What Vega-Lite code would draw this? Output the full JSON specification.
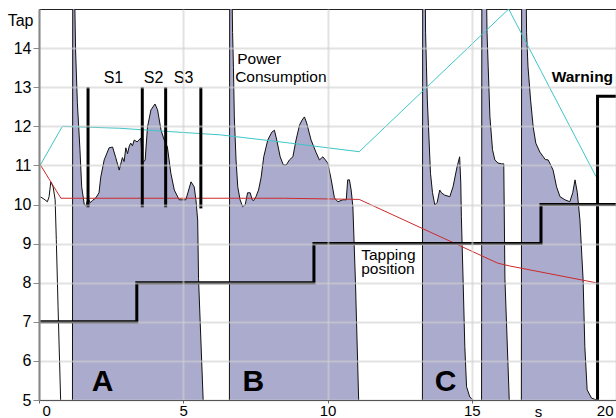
{
  "$schema": "https://vega.github.io/schema/vega-lite/v6.json",
  "width": 577,
  "height": 391,
  "autosize": {"type": "none"},
  "padding": {"left": 39, "top": 9, "right": 0, "bottom": 18},
  "background": "white",
  "config": {
    "view": {"stroke": "#222", "strokeWidth": 1},
    "font": "Liberation Sans",
    "axis": {"labelFont": "Liberation Sans", "titleFont": "Liberation Sans", "labelColor": "#000", "titleColor": "#000", "labelFontSize": 16, "titleFontSize": 16, "titleFontWeight": "normal"}
  },
  "datasets": {
    "power": [
      {"s": "P", "x": 0.0, "y": 10.2}, {"s": "P", "x": 0.06, "y": 10.19}, {"s": "P", "x": 0.17, "y": 10.14}, {"s": "P", "x": 0.29, "y": 10.07}, {"s": "P", "x": 0.35, "y": 10.2}, {"s": "P", "x": 0.41, "y": 10.58}, {"s": "P", "x": 0.49, "y": 10.45}, {"s": "P", "x": 0.56, "y": 10.12}, {"s": "P", "x": 0.6, "y": 9.1}, {"s": "P", "x": 0.66, "y": 7.4}, {"s": "P", "x": 0.75, "y": 5.0},
      {"s": "A", "x": 1.16, "y": 5}, {"s": "A", "x": 1.17, "y": 16}, {"s": "A", "x": 1.22, "y": 16}, {"s": "A", "x": 1.27, "y": 13.9}, {"s": "A", "x": 1.33, "y": 12.6}, {"s": "A", "x": 1.42, "y": 11.4}, {"s": "A", "x": 1.48, "y": 10.45}, {"s": "A", "x": 1.57, "y": 10.0}, {"s": "A", "x": 1.62, "y": 9.96}, {"s": "A", "x": 1.7, "y": 10.15}, {"s": "A", "x": 1.78, "y": 10.05}, {"s": "A", "x": 1.85, "y": 10.1}, {"s": "A", "x": 1.97, "y": 10.17}, {"s": "A", "x": 2.08, "y": 10.3}, {"s": "A", "x": 2.14, "y": 10.7}, {"s": "A", "x": 2.26, "y": 11.14}, {"s": "A", "x": 2.43, "y": 11.45}, {"s": "A", "x": 2.55, "y": 11.47}, {"s": "A", "x": 2.66, "y": 11.2}, {"s": "A", "x": 2.78, "y": 10.88}, {"s": "A", "x": 2.89, "y": 11.2}, {"s": "A", "x": 2.95, "y": 11.1}, {"s": "A", "x": 3.01, "y": 11.45}, {"s": "A", "x": 3.07, "y": 11.3}, {"s": "A", "x": 3.13, "y": 11.5}, {"s": "A", "x": 3.18, "y": 11.57}, {"s": "A", "x": 3.24, "y": 11.5}, {"s": "A", "x": 3.3, "y": 11.65}, {"s": "A", "x": 3.4, "y": 11.6}, {"s": "A", "x": 3.53, "y": 11.7}, {"s": "A", "x": 3.59, "y": 11.06}, {"s": "A", "x": 3.68, "y": 11.14}, {"s": "A", "x": 3.76, "y": 11.98}, {"s": "A", "x": 3.88, "y": 12.42}, {"s": "A", "x": 4.02, "y": 12.57}, {"s": "A", "x": 4.11, "y": 12.42}, {"s": "A", "x": 4.23, "y": 11.9}, {"s": "A", "x": 4.34, "y": 11.65}, {"s": "A", "x": 4.45, "y": 11.47}, {"s": "A", "x": 4.57, "y": 10.8}, {"s": "A", "x": 4.69, "y": 10.37}, {"s": "A", "x": 4.86, "y": 10.12}, {"s": "A", "x": 5.09, "y": 10.12}, {"s": "A", "x": 5.27, "y": 10.58}, {"s": "A", "x": 5.38, "y": 10.45}, {"s": "A", "x": 5.44, "y": 10.12}, {"s": "A", "x": 5.5, "y": 9.6}, {"s": "A", "x": 5.53, "y": 8.1}, {"s": "A", "x": 5.69, "y": 5},
      {"s": "B", "x": 6.6, "y": 5}, {"s": "B", "x": 6.61, "y": 16}, {"s": "B", "x": 6.68, "y": 16}, {"s": "B", "x": 6.71, "y": 14.4}, {"s": "B", "x": 6.74, "y": 13.5}, {"s": "B", "x": 6.77, "y": 12.24}, {"s": "B", "x": 6.83, "y": 11.14}, {"s": "B", "x": 6.89, "y": 10.45}, {"s": "B", "x": 6.97, "y": 10.12}, {"s": "B", "x": 7.06, "y": 9.94}, {"s": "B", "x": 7.15, "y": 10.0}, {"s": "B", "x": 7.23, "y": 10.3}, {"s": "B", "x": 7.32, "y": 10.3}, {"s": "B", "x": 7.39, "y": 10.12}, {"s": "B", "x": 7.44, "y": 10.1}, {"s": "B", "x": 7.52, "y": 10.2}, {"s": "B", "x": 7.61, "y": 10.37}, {"s": "B", "x": 7.7, "y": 10.7}, {"s": "B", "x": 7.79, "y": 11.22}, {"s": "B", "x": 7.93, "y": 11.65}, {"s": "B", "x": 8.07, "y": 11.85}, {"s": "B", "x": 8.16, "y": 11.9}, {"s": "B", "x": 8.24, "y": 11.65}, {"s": "B", "x": 8.36, "y": 11.22}, {"s": "B", "x": 8.47, "y": 11.01}, {"s": "B", "x": 8.57, "y": 11.01}, {"s": "B", "x": 8.68, "y": 11.14}, {"s": "B", "x": 8.8, "y": 11.22}, {"s": "B", "x": 8.91, "y": 11.65}, {"s": "B", "x": 9.03, "y": 12.03}, {"s": "B", "x": 9.12, "y": 12.16}, {"s": "B", "x": 9.2, "y": 12.24}, {"s": "B", "x": 9.28, "y": 12.08}, {"s": "B", "x": 9.43, "y": 11.65}, {"s": "B", "x": 9.61, "y": 11.32}, {"s": "B", "x": 9.72, "y": 11.14}, {"s": "B", "x": 9.84, "y": 11.22}, {"s": "B", "x": 10.01, "y": 11.06}, {"s": "B", "x": 10.13, "y": 10.63}, {"s": "B", "x": 10.24, "y": 10.17}, {"s": "B", "x": 10.36, "y": 10.07}, {"s": "B", "x": 10.53, "y": 10.12}, {"s": "B", "x": 10.65, "y": 10.12}, {"s": "B", "x": 10.7, "y": 10.63}, {"s": "B", "x": 10.76, "y": 10.63}, {"s": "B", "x": 10.82, "y": 10.37}, {"s": "B", "x": 10.88, "y": 9.94}, {"s": "B", "x": 10.97, "y": 8.0}, {"s": "B", "x": 11.08, "y": 5},
      {"s": "C1", "x": 13.29, "y": 5}, {"s": "C1", "x": 13.3, "y": 16}, {"s": "C1", "x": 13.38, "y": 16}, {"s": "C1", "x": 13.4, "y": 14.39}, {"s": "C1", "x": 13.43, "y": 13.52}, {"s": "C1", "x": 13.46, "y": 12.67}, {"s": "C1", "x": 13.52, "y": 11.65}, {"s": "C1", "x": 13.57, "y": 10.8}, {"s": "C1", "x": 13.64, "y": 10.3}, {"s": "C1", "x": 13.72, "y": 9.99}, {"s": "C1", "x": 13.8, "y": 10.05}, {"s": "C1", "x": 13.89, "y": 10.37}, {"s": "C1", "x": 13.95, "y": 10.3}, {"s": "C1", "x": 14.06, "y": 10.24}, {"s": "C1", "x": 14.24, "y": 10.2}, {"s": "C1", "x": 14.35, "y": 10.45}, {"s": "C1", "x": 14.49, "y": 10.96}, {"s": "C1", "x": 14.58, "y": 11.22}, {"s": "C1", "x": 14.62, "y": 10.55}, {"s": "C1", "x": 14.64, "y": 9.7}, {"s": "C1", "x": 14.7, "y": 8.07}, {"s": "C1", "x": 14.76, "y": 6.36}, {"s": "C1", "x": 14.82, "y": 5.34}, {"s": "C1", "x": 14.93, "y": 5.08}, {"s": "C1", "x": 15.05, "y": 5.0},
      {"s": "C2", "x": 15.34, "y": 5}, {"s": "C2", "x": 15.35, "y": 16}, {"s": "C2", "x": 15.5, "y": 16}, {"s": "C2", "x": 15.53, "y": 14.39}, {"s": "C2", "x": 15.57, "y": 13.52}, {"s": "C2", "x": 15.63, "y": 12.24}, {"s": "C2", "x": 15.72, "y": 11.4}, {"s": "C2", "x": 15.8, "y": 11.14}, {"s": "C2", "x": 15.91, "y": 11.06}, {"s": "C2", "x": 16.03, "y": 11.04}, {"s": "C2", "x": 16.11, "y": 11.04}, {"s": "C2", "x": 16.15, "y": 8.1}, {"s": "C2", "x": 16.3, "y": 5},
      {"s": "C3", "x": 16.72, "y": 5}, {"s": "C3", "x": 16.73, "y": 16}, {"s": "C3", "x": 16.88, "y": 16}, {"s": "C3", "x": 16.9, "y": 14.39}, {"s": "C3", "x": 16.95, "y": 13.52}, {"s": "C3", "x": 17.04, "y": 12.67}, {"s": "C3", "x": 17.13, "y": 11.98}, {"s": "C3", "x": 17.22, "y": 11.57}, {"s": "C3", "x": 17.36, "y": 11.34}, {"s": "C3", "x": 17.48, "y": 11.22}, {"s": "C3", "x": 17.55, "y": 11.15}, {"s": "C3", "x": 17.65, "y": 11.14}, {"s": "C3", "x": 17.82, "y": 10.88}, {"s": "C3", "x": 17.94, "y": 10.45}, {"s": "C3", "x": 18.06, "y": 10.2}, {"s": "C3", "x": 18.23, "y": 10.12}, {"s": "C3", "x": 18.4, "y": 10.07}, {"s": "C3", "x": 18.5, "y": 10.3}, {"s": "C3", "x": 18.58, "y": 10.63}, {"s": "C3", "x": 18.66, "y": 10.3}, {"s": "C3", "x": 18.75, "y": 9.6}, {"s": "C3", "x": 18.86, "y": 8.07}, {"s": "C3", "x": 18.92, "y": 6.36}, {"s": "C3", "x": 19.0, "y": 5.26}, {"s": "C3", "x": 19.15, "y": 5.05}, {"s": "C3", "x": 19.33, "y": 5.0}
    ],
    "cyan": [
      {"x": 0, "y": 10.95}, {"x": 0.81, "y": 12.0}, {"x": 2.8, "y": 11.95}, {"x": 4.2, "y": 11.88}, {"x": 6.3, "y": 11.78}, {"x": 8.6, "y": 11.58}, {"x": 11.1, "y": 11.35}, {"x": 16.28, "y": 15.0}, {"x": 19.31, "y": 10.71}
    ],
    "red": [
      {"x": 0, "y": 11.07}, {"x": 0.76, "y": 10.16}, {"x": 8.5, "y": 10.16}, {"x": 11.1, "y": 10.13}, {"x": 15.9, "y": 8.5}, {"x": 16.3, "y": 8.43}, {"x": 19.3, "y": 8.0}
    ],
    "tap": [
      {"x": 0, "y": 7}, {"x": 3.39, "y": 8}, {"x": 9.53, "y": 9}, {"x": 17.4, "y": 10}, {"x": 20, "y": 10}
    ],
    "warning": [
      {"i": 0, "x": 19.36, "y": 5}, {"i": 1, "x": 19.36, "y": 12.77}, {"i": 2, "x": 20, "y": 12.77}
    ],
    "slines": [
      {"x": 1.7, "y": 9.93, "y2": 13.0}, {"x": 3.58, "y": 9.93, "y2": 13.0}, {"x": 4.39, "y": 9.93, "y2": 13.0}, {"x": 5.61, "y": 9.9, "y2": 13.0}
    ]
  },
  "encoding": {
    "x": {"field": "x", "type": "quantitative", "scale": {"domain": [0, 20], "nice": false},
      "axis": {"values": [0, 5, 10, 15, 20], "title": "s", "titleX": 499, "titleY": 16, "titleBaseline": "alphabetic", "titleAnchor": null, "titleAlign": "center", "titleFontSize": 15,
        "labelFontSize": 15, "labelFlush": true, "labelFlushOffset": -3,
        "labelPadding": 0, "tickSize": 3, "tickColor": "#666", "domainColor": "#555", "domainWidth": 1,
        "grid": true, "gridColor": "#d0d0d0", "gridOpacity": 0.6, "gridWidth": 2, "zindex": 1}},
    "y": {"field": "y", "type": "quantitative", "scale": {"domain": [5, 15], "nice": false, "zero": false},
      "axis": {"values": [5, 6, 7, 8, 9, 10, 11, 12, 13, 14], "title": "Tap", "titleAngle": 0, "titleX": -6, "titleY": 11, "titleAlign": "right", "titleBaseline": "middle",
        "labelPadding": 2, "tickSize": 6, "tickColor": "#888", "domainColor": "#888", "domainWidth": 2,
        "grid": true, "gridColor": "#d0d0d0", "gridOpacity": 0.6, "gridWidth": 2, "zindex": 1}}
  },
  "layer": [
    {
      "data": {"name": "power"},
      "transform": [{"filter": "datum.s != 'P'"}],
      "mark": {"type": "area", "color": "#ababcd", "opacity": 1, "clip": true},
      "encoding": {"detail": {"field": "s"}, "y2": {"datum": 5}}
    },
    {
      "data": {"name": "power"},
      "mark": {"type": "line", "color": "#111", "strokeWidth": 1, "clip": true},
      "encoding": {"detail": {"field": "s"}}
    },
    {
      "data": {"name": "cyan"},
      "mark": {"type": "line", "color": "#3ec6c6", "strokeWidth": 1, "clip": true},
      "encoding": {}
    },
    {
      "data": {"name": "red"},
      "mark": {"type": "line", "color": "#cc2a2a", "strokeWidth": 1, "clip": true},
      "encoding": {}
    },
    {
      "data": {"name": "tap"},
      "mark": {"type": "line", "color": "#000", "strokeWidth": 3, "interpolate": "step-after", "clip": true},
      "encoding": {}
    },
    {
      "data": {"name": "warning"},
      "mark": {"type": "line", "color": "#000", "strokeWidth": 3, "clip": true},
      "encoding": {"order": {"field": "i"}}
    },
    {
      "data": {"name": "slines"},
      "mark": {"type": "rule", "color": "#000", "strokeWidth": 3},
      "encoding": {"y2": {"field": "y2"}}
    },
    {
      "data": {"values": [{"t": "S1", "x": 2.58, "y": 13.23}, {"t": "S2", "x": 3.97, "y": 13.23}, {"t": "S3", "x": 5.01, "y": 13.23}]},
      "mark": {"type": "text", "fontSize": 16, "align": "center", "baseline": "middle", "color": "#000"},
      "encoding": {"text": {"field": "t"}}
    },
    {
      "data": {"values": [{"t": "Power", "x": 6.87, "y": 13.71}, {"t": "Consumption", "x": 6.8, "y": 13.27}, {"t": "Tapping", "x": 11.17, "y": 8.71}, {"t": "position", "x": 11.17, "y": 8.34}]},
      "mark": {"type": "text", "fontSize": 15.5, "align": "left", "baseline": "middle", "color": "#000"},
      "encoding": {"text": {"field": "t"}}
    },
    {
      "data": {"values": [{"t": "Warning", "x": 17.77, "y": 13.27}]},
      "mark": {"type": "text", "fontSize": 15.5, "fontWeight": "bold", "align": "left", "baseline": "middle", "color": "#000"},
      "encoding": {"text": {"field": "t"}}
    },
    {
      "data": {"values": [{"t": "A", "x": 2.2, "y": 5.45}, {"t": "B", "x": 7.43, "y": 5.45}, {"t": "C", "x": 14.09, "y": 5.45}]},
      "mark": {"type": "text", "fontSize": 30, "fontWeight": "bold", "align": "center", "baseline": "middle", "color": "#000"},
      "encoding": {"text": {"field": "t"}}
    }
  ]
}
